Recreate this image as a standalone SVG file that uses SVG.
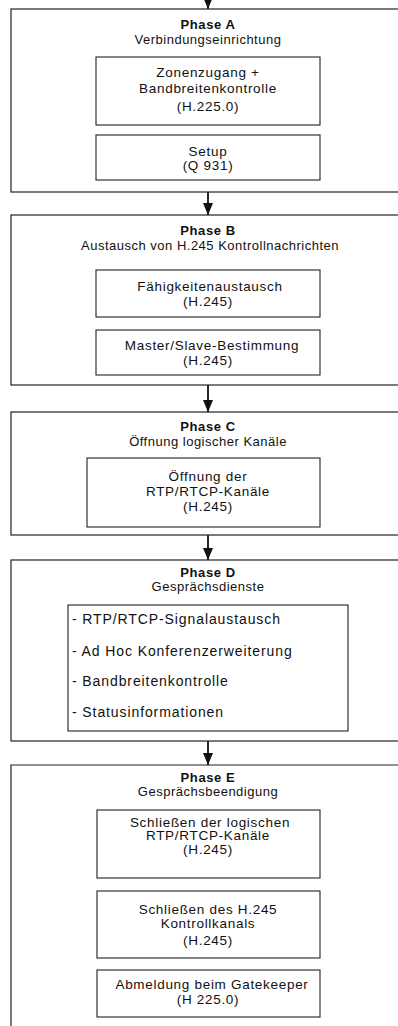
<svg xmlns="http://www.w3.org/2000/svg" width="398" height="1026" viewBox="0 0 398 1026">
<defs>
<marker id="ah" viewBox="0 0 12 10" refX="12" refY="5" markerWidth="12" markerHeight="10" markerUnits="userSpaceOnUse" orient="auto">
<path d="M0,0 L12,5 L0,10 Z" fill="#111"/>
</marker>
<style>
.phase{fill:none;stroke:#222;stroke-width:1.2}
.box{fill:none;stroke:#222;stroke-width:1.1}
text{font-family:"Liberation Sans",Arial,sans-serif;font-size:13.5px;letter-spacing:0.7px;fill:#111;text-anchor:middle}
.t{font-weight:bold;font-size:13px;letter-spacing:0.6px}
.s{font-size:13px;letter-spacing:0.5px}
.li{text-anchor:start;font-size:14px;letter-spacing:0.9px}
.conn{stroke:#111;stroke-width:1.8;fill:none}
</style>
</defs>
<rect width="398" height="1026" fill="#fff"/>
<g id="connectors">
<line class="conn" x1="208" y1="-5" x2="208" y2="9" marker-end="url(#ah)"/>
<line class="conn" x1="208" y1="192" x2="208" y2="215" marker-end="url(#ah)"/>
<line class="conn" x1="208" y1="385" x2="208" y2="412" marker-end="url(#ah)"/>
<line class="conn" x1="208" y1="535" x2="208" y2="560" marker-end="url(#ah)"/>
<line class="conn" x1="208" y1="741" x2="208" y2="765" marker-end="url(#ah)"/>
</g>
<g id="phaseA">
<rect class="phase" x="11" y="9" width="400" height="183"/>
<text class="t" x="208" y="29">Phase A</text>
<text class="s" x="208" y="44">Verbindungseinrichtung</text>
<g id="a1"><rect class="box" x="96" y="57" width="224" height="68"/>
<text x="208" y="77">Zonenzugang +</text>
<text x="208" y="93">Bandbreitenkontrolle</text>
<text x="208" y="111">(H.225.0)</text></g>
<g id="a2"><rect class="box" x="96" y="135" width="224" height="45"/>
<text x="208" y="156">Setup</text>
<text x="208" y="170">(Q 931)</text></g>
</g>
<g id="phaseB">
<rect class="phase" x="11" y="215" width="400" height="170"/>
<text class="t" x="208" y="235">Phase B</text>
<text class="s" x="210" y="250">Austausch von H.245 Kontrollnachrichten</text>
<g id="b1"><rect class="box" x="96" y="270" width="224" height="47"/>
<text x="210" y="291">Fähigkeitenaustausch</text>
<text x="208" y="306">(H.245)</text></g>
<g id="b2"><rect class="box" x="96" y="330" width="224" height="45"/>
<text x="212" y="350">Master/Slave-Bestimmung</text>
<text x="208" y="365">(H.245)</text></g>
</g>
<g id="phaseC">
<rect class="phase" x="11" y="412" width="400" height="123"/>
<text class="t" x="208" y="431">Phase C</text>
<text class="s" x="208" y="446">Öffnung logischer Kanäle</text>
<g id="c1"><rect class="box" x="87" y="458" width="233" height="69"/>
<text x="208" y="481">Öffnung der</text>
<text x="208" y="496">RTP/RTCP-Kanäle</text>
<text x="208" y="511">(H.245)</text></g>
</g>
<g id="phaseD">
<rect class="phase" x="11" y="560" width="400" height="181"/>
<text class="t" x="208" y="577">Phase D</text>
<text class="s" x="208" y="591">Gesprächsdienste</text>
<g id="d1"><rect class="box" x="68" y="605" width="280" height="126"/>
<text class="li" x="72" y="624">- RTP/RTCP-Signalaustausch</text>
<text class="li" x="72" y="656">- Ad Hoc Konferenzerweiterung</text>
<text class="li" x="72" y="686">- Bandbreitenkontrolle</text>
<text class="li" x="72" y="717">- Statusinformationen</text></g>
</g>
<g id="phaseE">
<path class="phase" d="M411,765 H11 V1030"/>
<text class="t" x="208" y="782">Phase E</text>
<text class="s" x="208" y="796">Gesprächsbeendigung</text>
<g id="e1"><rect class="box" x="97" y="810" width="223" height="68"/>
<text x="210" y="827">Schließen der logischen</text>
<text x="208" y="840">RTP/RTCP-Kanäle</text>
<text x="208" y="854">(H.245)</text></g>
<g id="e2"><rect class="box" x="97" y="891" width="223" height="67"/>
<text x="208" y="914">Schließen des H.245</text>
<text x="208" y="928">Kontrollkanals</text>
<text x="208" y="945">(H.245)</text></g>
<g id="e3"><rect class="box" x="97" y="970" width="223" height="47"/>
<text x="212" y="989">Abmeldung beim Gatekeeper</text>
<text x="208" y="1004">(H 225.0)</text></g>
</g>
</svg>
